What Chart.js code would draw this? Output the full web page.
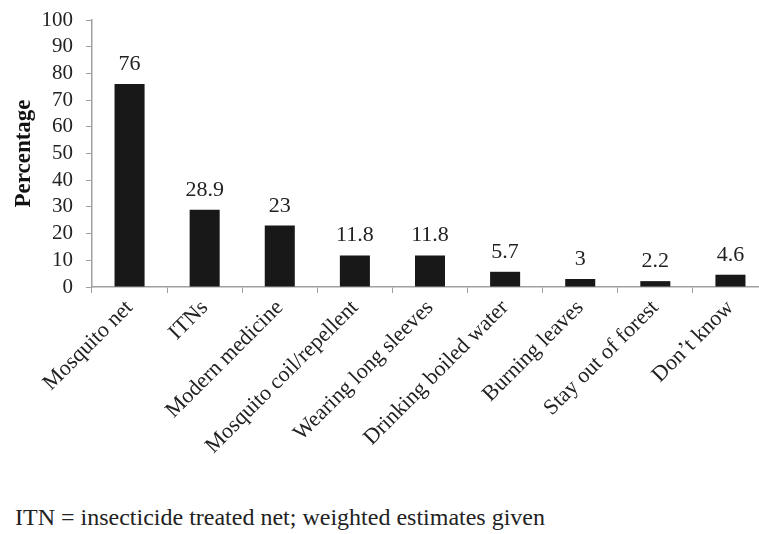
<!DOCTYPE html>
<html>
<head>
<meta charset="utf-8">
<script src="https://cdn.jsdelivr.net/npm/chart.js@4/dist/chart.umd.min.js"></script>
<style>
  html, body { margin: 0; padding: 0; background: #fff; overflow: hidden; }
  #wrap { position: relative; width: 759px; height: 534px; overflow: hidden; }
  #box { position: absolute; left: 0; top: 0; width: 772px; height: 480px; }
  #note { position: absolute; left: 15px; top: 503px; font-family: "Liberation Serif", "Times New Roman", serif; font-size: 24px; line-height: 28px; color: #222; white-space: nowrap; }
</style>
</head>
<body>
<div id="wrap">
  <div id="box"><canvas id="c" width="772" height="480"></canvas></div>
  <div id="note">ITN = insecticide treated net; weighted estimates given</div>
</div>
<script>
const categories = ["Mosquito net", "ITNs", "Modern medicine", "Mosquito coil/repellent", "Wearing long sleeves", "Drinking boiled water", "Burning leaves", "Stay out of forest", "Don\u2019t know"];
const percentages = [76, 28.9, 23, 11.8, 11.8, 5.7, 3, 2.2, 4.6];
const yTicks = [0, 10, 20, 30, 40, 50, 60, 70, 80, 90, 100];

const serif = "'Liberation Serif', 'Times New Roman', serif";

// Writes each bar's value just above it
const valueLabels = {
  id: 'valueLabels',
  afterDatasetsDraw(chart) {
    const ctx = chart.ctx;
    const meta = chart.getDatasetMeta(0);
    ctx.save();
    ctx.font = "22px " + serif;
    ctx.fillStyle = "#222";
    ctx.textAlign = "center";
    ctx.textBaseline = "alphabetic";
    meta.data.forEach((bar, i) => {
      ctx.fillText(String(percentages[i]), bar.x, bar.y - 14);
    });
    ctx.restore();
  }
};

new Chart(document.getElementById('c'), {
  type: 'bar',
  data: {
    labels: categories,
    datasets: [{
      data: percentages,
      backgroundColor: '#181818',
      borderWidth: 0,
      categoryPercentage: 0.8,
      barPercentage: 0.5
    }]
  },
  plugins: [valueLabels],
  options: {
    responsive: false,
    animation: false,
    layout: { padding: { top: 20, right: 4, left: 0, bottom: 0 } },
    plugins: { legend: { display: false }, tooltip: { enabled: false } },
    scales: {
      x: {
        offset: true,
        grid: { offset: true, drawOnChartArea: false, drawTicks: true, tickLength: 6, color: '#a0a0a0', lineWidth: 1 },
        border: { color: '#a0a0a0', width: 1.5 },
        ticks: { minRotation: 45, maxRotation: 45, autoSkip: false, padding: 2, color: '#222', font: { family: serif, size: 22 } },
        afterFit(scale) { scale.height = 193; }
      },
      y: {
        min: 0, max: 100,
        afterBuildTicks(scale) { scale.ticks = yTicks.map(v => ({ value: v })); },
        grid: { drawOnChartArea: false, drawTicks: true, tickLength: 6, color: '#a0a0a0' },
        border: { color: '#a0a0a0', width: 1.5 },
        ticks: { autoSkip: false, padding: 13, color: '#222', font: { family: serif, size: 21 } },
        title: { display: true, text: 'Percentage', color: '#111', font: { family: serif, size: 23, weight: 'bold' }, padding: { top: 10, bottom: 0 } },
        afterFit(scale) { scale.width = 92; scale.paddingTop = 0; scale.paddingBottom = 0; }
      }
    }
  }
});
</script>
</body>
</html>
